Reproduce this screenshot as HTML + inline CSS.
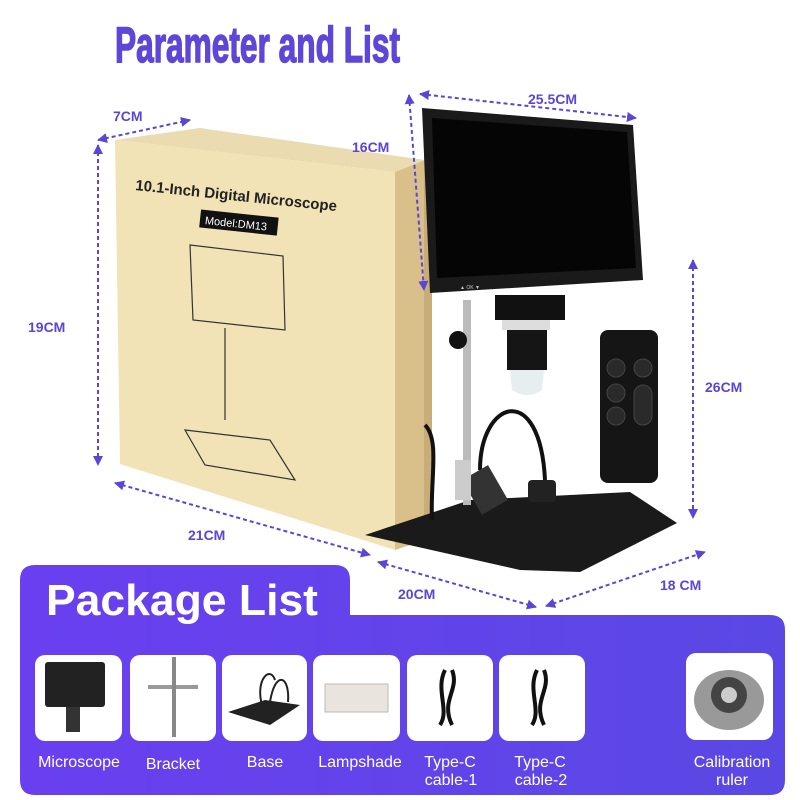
<!DOCTYPE html>
<html><head><meta charset="utf-8"><style>
html,body{margin:0;padding:0;background:#fff;}
svg{display:block;font-family:"Liberation Sans",sans-serif;}
</style></head><body>
<svg width="800" height="800" viewBox="0 0 800 800" xmlns="http://www.w3.org/2000/svg">
<defs>
<marker id="ar" viewBox="0 0 10 10" refX="9" refY="5" markerWidth="5" markerHeight="5" orient="auto-start-reverse"><path d="M0,0L10,5L0,10z" fill="#5b45d6"/></marker>
<linearGradient id="pg" x1="0" y1="0" x2="1" y2="0"><stop offset="0" stop-color="#6a3ff0"/><stop offset="1" stop-color="#5a48e4"/></linearGradient>
</defs>
<rect width="800" height="800" fill="#fff"/>
<text x="115" y="62" font-size="50" font-weight="bold" fill="#5e46d8" stroke="#5e46d8" stroke-width="1.5" textLength="285" lengthAdjust="spacingAndGlyphs">Parameter and List</text>

<!-- box -->
<polygon points="115,140 200,128 425,160 395,172" fill="#eadcb0"/>
<polygon points="395,172 425,160 425,540 395,550" fill="#d9bf8a"/>
<polygon points="115,140 395,172 395,550 120,464" fill="#f1e3b6"/>
<text x="135" y="190" font-size="15" font-weight="bold" fill="#222" transform="rotate(6 135 190)">10.1-Inch Digital Microscope</text>
<g transform="rotate(6 205 220)"><rect x="200" y="210" width="78" height="18" fill="#111"/><text x="205" y="224" font-size="11" fill="#fff">Model:DM13</text></g>
<g fill="none" stroke="#333" stroke-width="1.2">
<polygon points="190,245 283,256 285,330 193,320"/>
<line x1="225" y1="328" x2="225" y2="420"/>
<polygon points="185,430 270,440 295,480 205,465"/>
</g>
<polygon points="424,155 432,152 432,535 424,540" fill="#c9ad78"/>

<!-- base -->
<polygon points="365,535 470,500 630,492 677,523 580,572 520,570" fill="#1a1a1a"/>
<!-- stand -->
<rect x="463" y="300" width="8" height="205" fill="#bbb"/>
<path d="M425,425 C440,440 430,480 432,520" stroke="#111" stroke-width="4" fill="none"/>
<path d="M480,470 C480,400 540,380 545,480" stroke="#111" stroke-width="4" fill="none"/>
<rect x="528" y="480" width="28" height="22" rx="4" fill="#222"/>
<rect x="470" y="470" width="30" height="40" fill="#333" transform="rotate(-30 485 490)"/>
<rect x="455" y="460" width="16" height="40" fill="#ccc"/>
<!-- camera -->
<rect x="495" y="295" width="70" height="25" fill="#111"/>
<rect x="502" y="320" width="48" height="10" fill="#ddd"/>
<rect x="507" y="330" width="40" height="40" fill="#151515"/>
<path d="M510,370 L544,370 L542,390 Q527,400 512,390Z" fill="#e6eef0"/>
<circle cx="458" cy="340" r="9" fill="#111"/>
<!-- monitor -->
<polygon points="422,108 633,125 643,280 430,293" fill="#1a1a1a"/>
<polygon points="432,118 627,132 636,268 437,278" fill="#050505"/>
<text x="460" y="289" font-size="5" fill="#ccc">▲ OK ▼</text>
<!-- remote -->
<rect x="600" y="330" width="58" height="153" rx="8" fill="#151515"/>
<g fill="#2a2a2a" stroke="#444"><circle cx="616" cy="368" r="9"/><circle cx="643" cy="368" r="9"/><circle cx="616" cy="393" r="9"/><circle cx="616" cy="416" r="9"/><rect x="634" y="385" width="18" height="40" rx="9"/></g>

<!-- dimension lines -->
<g stroke="#5b45d6" stroke-width="2" stroke-dasharray="4,3" fill="none" marker-start="url(#ar)" marker-end="url(#ar)">
<line x1="98" y1="140" x2="190" y2="120"/>
<line x1="98" y1="145" x2="98" y2="465"/>
<line x1="115" y1="483" x2="370" y2="555"/>
<line x1="409" y1="95" x2="424" y2="290"/>
<line x1="420" y1="94" x2="636" y2="118"/>
<line x1="693" y1="260" x2="693" y2="518"/>
<line x1="378" y1="562" x2="536" y2="607"/>
<line x1="546" y1="606" x2="705" y2="552"/>
</g>
<g fill="#5b45d6" font-size="14" font-weight="bold">
<text x="113" y="121">7CM</text>
<text x="352" y="152">16CM</text>
<text x="528" y="104">25.5CM</text>
<text x="28" y="332">19CM</text>
<text x="705" y="392">26CM</text>
<text x="188" y="540">21CM</text>
<text x="398" y="599">20CM</text>
<text x="660" y="590">18 CM</text>
</g>

<!-- package panel -->
<path d="M20,580 Q20,565 35,565 L335,565 Q350,565 350,580 L350,615 L770,615 Q785,615 785,630 L785,780 Q785,795 770,795 L35,795 Q20,795 20,780Z" fill="url(#pg)"/>
<text x="46" y="615" font-size="44" font-weight="bold" fill="#fff" textLength="272" lengthAdjust="spacingAndGlyphs">Package List</text>
<g fill="#fff">
<rect x="35" y="655" width="87" height="86" rx="10"/>
<rect x="130" y="655" width="86" height="86" rx="10"/>
<rect x="222" y="655" width="85" height="86" rx="10"/>
<rect x="313" y="655" width="87" height="86" rx="10"/>
<rect x="407" y="655" width="86" height="86" rx="10"/>
<rect x="499" y="655" width="86" height="86" rx="10"/>
<rect x="686" y="653" width="87" height="87" rx="10"/>
</g>
<rect x="45" y="662" width="60" height="45" rx="3" fill="#222"/>
<rect x="66" y="707" width="14" height="25" fill="#333"/>
<rect x="148" y="685" width="50" height="4" fill="#999"/><rect x="172" y="657" width="4" height="80" fill="#888"/>
<polygon points="228,712 265,700 300,705 270,725" fill="#222"/>
<path d="M262,705 C255,680 270,665 275,680 M270,702 C275,670 290,675 288,702" stroke="#222" stroke-width="2" fill="none"/>
<rect x="325" y="684" width="63" height="28" fill="#e9e5de" stroke="#bbb"/>
<path d="M445,670 C435,690 450,710 440,725 M452,670 C460,690 440,700 452,725" stroke="#111" stroke-width="4" fill="none"/>
<path d="M537,670 C527,690 542,710 532,725 M544,670 C552,690 532,700 544,725" stroke="#111" stroke-width="4" fill="none"/>
<ellipse cx="729" cy="700" rx="35" ry="30" fill="#999"/><circle cx="729" cy="695" r="18" fill="#444"/><circle cx="729" cy="695" r="8" fill="#ccc"/>
<g fill="#fff" font-size="16" text-anchor="middle">
<text x="79" y="767">Microscope</text>
<text x="173" y="769">Bracket</text>
<text x="265" y="767">Base</text>
<text x="360" y="767">Lampshade</text>
<text x="450" y="767">Type-C</text><text x="451" y="785">cable-1</text>
<text x="540" y="767">Type-C</text><text x="541" y="785">cable-2</text>
<text x="732" y="767">Calibration</text><text x="732" y="785">ruler</text>
</g>
</svg>
</body></html>
